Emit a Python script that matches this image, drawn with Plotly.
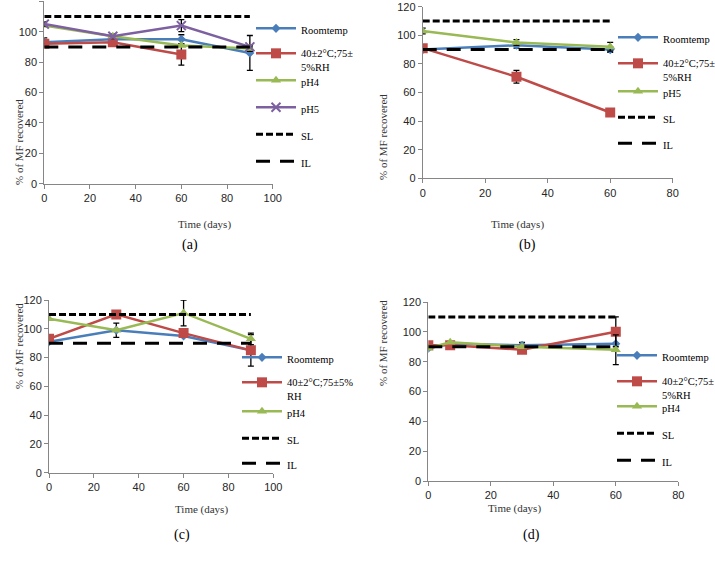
import plotly.graph_objects as go

# ---------------- data ----------------
# Panel (a)
a_days = [0, 30, 60, 90]
a_room = [93, 95, 95, 86]
a_room_err = [3, None, 3, 11.5]
a_heat_days = [0, 30, 60]
a_heat = [92, 93, 85]
a_heat_err = [None, None, 7]
a_ph4 = [104, 97, 91, 89]
a_ph4_err = [None, 1.5, None, 2]
a_ph5 = [105, 97, 104, 90]
a_ph5_err = [1.5, None, 4, None]
a_limit_days = [0, 90]

# Panel (b)
b_days = [0, 30, 60]
b_room = [90, 93, 90]
b_room_err = [None, 2, 2]
b_heat = [91, 71, 46]
b_heat_err = [None, 4.5, None]
b_ph5 = [103, 95, 92]
b_ph5_err = [2, 2, 3]
b_limit_days = [0, 60]

# Panel (c)
c_days = [0, 30, 60, 90]
c_room = [91, 99, 95, 85]
c_room_err = [None, 5, None, 11]
c_heat = [93, 110, 97, 85]
c_heat_err = [None, None, None, None]
c_ph4 = [107, 99, 111, 93]
c_ph4_err = [None, None, 9, 4]
c_limit_days = [0, 90]

# Panel (d)
d_days = [0, 7, 30, 60]
d_room = [89, 92, 91, 92]
d_room_err = [None, None, 2, None]
d_heat = [91, 91, 88, 100]
d_heat_err = [None, None, None, 10]
d_ph4 = [89, 93, 90, 88]
d_ph4_err = [None, None, None, 10]
d_limit_days = [0, 60]

SL_VALUE = 110
IL_VALUE = 90

x_ranges = {"a": [0, 100], "b": [0, 80], "c": [0, 100], "d": [0, 80]}
y_tick_vals = [0, 20, 40, 60, 80, 100, 120]

# ---------------- styles / layout ----------------
BLUE = "#4A7EBB"
RED = "#BE4B48"
GREEN = "#98B954"
PURPLE = "#7D60A0"
AXIS = "#868686"
SERIF = "Liberation Serif"
SANS = "Liberation Sans"

W, H = 715, 567
def px_x(p):
    return p / W
def px_y(p):
    return 1 - p / H

panels = {
    # key: (xaxis, yaxis, x domain px, y domain px (top, bottom), legend left px, legend row centres px)
    "a": ("x", "y", (44.3, 272.7), (1.3, 183.7), 256, [29, 54, 81, 108, 135, 162]),
    "b": ("x2", "y2", (422.7, 672.7), (6.7, 178.3), 618, [38, 64, 92, 118, 144]),
    "c": ("x3", "y3", (49, 273.3), (300, 472.7), 242, [358, 383, 412, 439, 464]),
    "d": ("x4", "y4", (428.3, 678.3), (302, 481), 617, [356, 382, 407, 434, 461]),
}

fig = go.Figure()
legend_layouts = {}
legend_counter = [1]
row_index = {k: 0 for k in panels}

def next_legend(key):
    legend_counter[0] += 1
    name = "legend%d" % legend_counter[0]
    _, _, _, _, lx, rows = panels[key]
    ry = rows[row_index[key]]
    row_index[key] += 1
    legend_layouts[name] = dict(
        x=px_x(lx - 5), y=px_y(ry - 14), xanchor="left", yanchor="top",
        bgcolor="rgba(0,0,0,0)", borderwidth=0,
        font=dict(family=SERIF, size=10.5, color="black"),
        valign="top", itemwidth=40)
    return name

def err(arr):
    return dict(type="data", array=arr, visible=True, color="black",
                thickness=1.3, width=3)

def series(key, name, xs, ys, errs, color, symbol, size):
    xa, ya = panels[key][0], panels[key][1]
    if symbol == "x":
        mk = dict(symbol="x-thin", size=size, color=color,
                  line=dict(color=color, width=2))
    else:
        mk = dict(symbol=symbol, size=size, color=color)
    fig.add_trace(go.Scatter(
        x=xs, y=ys, name=name, mode="lines+markers",
        line=dict(color=color, width=2.5), marker=mk,
        error_y=err(errs), xaxis=xa, yaxis=ya, legend=next_legend(key)))

def limits(key, days):
    xa, ya = panels[key][0], panels[key][1]
    fig.add_trace(go.Scatter(
        x=days, y=[SL_VALUE] * len(days), name="SL", mode="lines",
        line=dict(color="black", width=3, dash="7px,3px"),
        xaxis=xa, yaxis=ya, legend=next_legend(key)))
    fig.add_trace(go.Scatter(
        x=days, y=[IL_VALUE] * len(days), name="IL", mode="lines",
        line=dict(color="black", width=3, dash="14px,10px"),
        xaxis=xa, yaxis=ya, legend=next_legend(key)))

HEAT = "40±2°C;75±<br>5%RH"

# (a)
series("a", "Roomtemp", a_days, a_room, a_room_err, BLUE, "diamond", 7)
series("a", HEAT, a_heat_days, a_heat, a_heat_err, RED, "square", 10)
series("a", "pH4", a_days, a_ph4, a_ph4_err, GREEN, "triangle-up", 9)
series("a", "pH5", a_days, a_ph5, a_ph5_err, PURPLE, "x", 9)
limits("a", a_limit_days)

# (b)
series("b", "Roomtemp", b_days, b_room, b_room_err, BLUE, "diamond", 7)
series("b", HEAT, b_days, b_heat, b_heat_err, RED, "square", 10)
series("b", "pH5", b_days, b_ph5, b_ph5_err, GREEN, "triangle-up", 9)
limits("b", b_limit_days)

# (c)
series("c", "Roomtemp", c_days, c_room, c_room_err, BLUE, "diamond", 7)
series("c", "40±2°C;75±5%<br>RH", c_days, c_heat, c_heat_err, RED, "square", 10)
series("c", "pH4", c_days, c_ph4, c_ph4_err, GREEN, "triangle-up", 9)
limits("c", c_limit_days)

# (d)
series("d", "Roomtemp", d_days, d_room, d_room_err, BLUE, "diamond", 7)
series("d", HEAT, d_days, d_heat, d_heat_err, RED, "square", 10)
series("d", "pH4", d_days, d_ph4, d_ph4_err, GREEN, "triangle-up", 9)
limits("d", d_limit_days)

layout = dict(
    width=W, height=H, autosize=False,
    margin=dict(l=0, r=0, t=0, b=0, autoexpand=False),
    paper_bgcolor="white", plot_bgcolor="white",
    showlegend=True,
    font=dict(family=SANS, size=11, color="#262626"),
)
layout.update(legend_layouts)

annotations = []
for key, (xa, ya, xd, yd, _, _) in panels.items():
    xname = "xaxis" if xa == "x" else "xaxis" + xa[1:]
    yname = "yaxis" if ya == "y" else "yaxis" + ya[1:]
    layout[xname] = dict(
        domain=[px_x(xd[0]), px_x(xd[1])], anchor=ya, range=x_ranges[key],
        dtick=20, tick0=0, showgrid=False, zeroline=False,
        showline=True, linecolor=AXIS, linewidth=1,
        ticks="outside", ticklen=4, tickcolor=AXIS, automargin=False,
        tickfont=dict(family=SANS, size=11, color="#262626"))
    layout[yname] = dict(
        domain=[px_y(yd[1]), px_y(yd[0])], anchor=xa, range=[0, 120],
        tickvals=y_tick_vals, showgrid=False, zeroline=False,
        showline=True, linecolor=AXIS, linewidth=1,
        ticks="outside", ticklen=4, tickcolor=AXIS, automargin=False,
        tickfont=dict(family=SANS, size=11, color="#262626"))

xtitles = {"a": (176, 225), "b": (546, 224), "c": (173, 518), "d": (543, 517)}
ytitles = {"a": (11, 97), "b": (383, 92), "c": (11, 391), "d": (383, 388)}
labels = {"a": (180, 245), "b": (538, 245), "c": (172, 545), "d": (542, 545)}
for key in panels:
    tx, ty = xtitles[key]
    annotations.append(dict(x=px_x(tx), y=px_y(ty), xref="paper", yref="paper",
                            text="Time (days)", showarrow=False,
                            font=dict(family=SERIF, size=11, color="#333333")))
    vx, vy = ytitles[key]
    annotations.append(dict(x=px_x(vx), y=px_y(vy), xref="paper", yref="paper",
                            text="% of MF recovered", showarrow=False, textangle=-90,
                            font=dict(family=SERIF, size=11, color="#333333")))
    lx, ly = labels[key]
    annotations.append(dict(x=px_x(lx), y=px_y(ly), xref="paper", yref="paper",
                            text="(" + key + ")", showarrow=False,
                            font=dict(family=SERIF, size=14, color="black")))
layout["annotations"] = annotations

fig.update_layout(**layout)
fig.write_html("out.html")
